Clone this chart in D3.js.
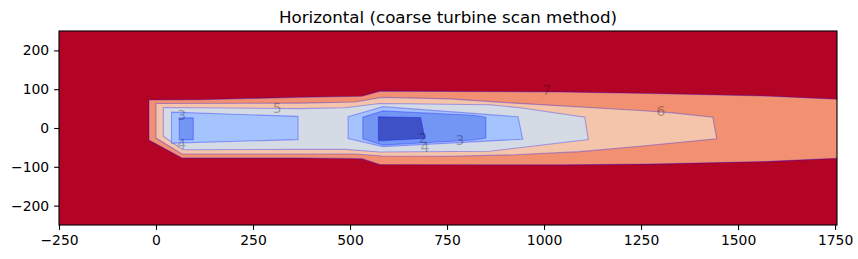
<!DOCTYPE html>
<html>
<head>
<meta charset="utf-8">
<script src="https://cdn.jsdelivr.net/npm/d3@7"></script>
<style>
  body { margin: 0; background: #fff; }
  svg text { font-family: "DejaVu Sans", sans-serif; }
</style>
</head>
<body>
<div id="chart"></div>
<script>
//Axis ticks

const xTicks = [-250, 0, 250, 500, 750, 1000, 1250, 1500, 1750];
const yTicks = [-200, -100, 0, 100, 200];

//Contour outlines (x, y in metres), one per level: region where speed < level

const below7 = [[-18, 72], [113, 73], [371, 79], [531, 82], [577, 95], [1041, 93], [1273, 89], [1582, 82], [1775, 73],
  [1775, -77], [1582, -86], [1273, -93], [1041, -95], [577, -94], [531, -79], [371, -77], [67, -77], [-18, -31]];
const below6 = [[0, 63], [371, 64], [513, 67], [582, 79], [757, 75], [925, 64], [1247, 45], [1332, 39], [1435, 28],
  [1445, -28], [1247, -47], [1092, -61], [925, -69], [757, -73], [582, -72], [513, -67], [371, -67], [67, -67], [0, -26]];
const below5 = [[19, 53], [371, 50], [487, 52], [577, 63], [860, 60], [938, 52], [1105, 28],
  [1114, -30], [925, -52], [860, -60], [577, -62], [487, -55], [371, -55], [69, -56], [19, -21]];
const below4a = [[40, 41], [366, 30], [366, -30], [40, -39]];
const below4b = [[495, 29], [585, 55], [933, 29], [945, -29], [585, -48], [495, -27]];
const below3a = [[60, 26], [96, 26], [96, -30], [60, -30]];
const below3b = [[533, 28], [585, 44], [817, 33], [850, 28], [850, -26], [817, -31], [585, -44], [533, -28]];
const below2 = [[573, 29], [682, 27], [693, -27], [573, -33]];

//Band colours, from the coolwarm map

const colorAbove7 = "#b40426";
const bandColors = ["#f29072", "#f4c4ab", "#d5dbe5", "#a5c3fe", "#7396f5", "#3e51c5"];

//Inline contour labels

const labelText = [7, 6, 5, 3, 4, 2, 4, 3];
const labelX = [1007, 1301, 312, 66, 66, 688, 693, 783];
const labelY = [98, 43, 51, 33, -41, -26, -50, -31];

//Set Dimensions

const width = 858, height = 259;
const margin = {left: 59, top: 31};
const plotW = 778, plotH = 194;

const svg = d3.select("#chart")
  .append("svg")
  .attr("width", width)
  .attr("height", height);

const x = d3.scaleLinear().domain([-250, 1755]).range([0, plotW]);
const y = d3.scaleLinear().domain([-250, 250]).range([plotH, 0]);

const g = svg.append("g")
  .attr("transform", `translate(${margin.left},${margin.top})`);

g.append("clipPath").attr("id", "clip")
  .append("rect").attr("width", plotW).attr("height", plotH);

const plot = g.append("g").attr("clip-path", "url(#clip)");

//Background band (speed above the top level)

plot.append("rect")
  .attr("width", plotW)
  .attr("height", plotH)
  .attr("fill", colorAbove7);

//Filled bands, outermost first

const bands = [
  {pts: below7, color: bandColors[0]},
  {pts: below6, color: bandColors[1]},
  {pts: below5, color: bandColors[2]},
  {pts: below4a, color: bandColors[3]},
  {pts: below4b, color: bandColors[3]},
  {pts: below3a, color: bandColors[4]},
  {pts: below3b, color: bandColors[4]},
  {pts: below2, color: bandColors[5]}
];

const outline = d3.line()
  .x(d => x(d[0]))
  .y(d => y(d[1]))
  .curve(d3.curveLinearClosed);

plot.selectAll("path.band")
  .data(bands)
  .join("path")
  .attr("class", "band")
  .attr("d", d => outline(d.pts))
  .attr("fill", d => d.color)
  .attr("stroke", "blue")
  .attr("stroke-opacity", 0.3)
  .attr("stroke-width", 1.1);

//Contour labels

plot.selectAll("text.clabel")
  .data(labelText)
  .join("text")
  .attr("class", "clabel")
  .attr("x", (d, i) => x(labelX[i]))
  .attr("y", (d, i) => y(labelY[i]))
  .attr("dy", "0.36em")
  .attr("text-anchor", "middle")
  .attr("font-size", 13.9)
  .attr("fill", "black")
  .attr("fill-opacity", 0.3)
  .text(d => d);

//Axes

const xAxis = g.append("g")
  .attr("transform", `translate(0,${plotH})`)
  .call(d3.axisBottom(x).tickValues(xTicks).tickFormat(d3.format("d"))
    .tickSize(4.9).tickPadding(4.9).tickSizeOuter(0));

const yAxis = g.append("g")
  .call(d3.axisLeft(y).tickValues(yTicks).tickFormat(d3.format("d"))
    .tickSize(4.9).tickPadding(4.9).tickSizeOuter(0));

[xAxis, yAxis].forEach(a => {
  a.select(".domain").remove();
  a.attr("font-family", null).attr("font-size", null);
  a.selectAll("line").attr("stroke", "black").attr("stroke-width", 1.1);
  a.selectAll("text").attr("font-size", 13.9).attr("fill", "black");
});

//Frame

g.append("rect")
  .attr("width", plotW)
  .attr("height", plotH)
  .attr("fill", "none")
  .attr("stroke", "black")
  .attr("stroke-width", 1.1);

//Title

svg.append("text")
  .attr("x", margin.left + plotW / 2)
  .attr("y", margin.top - 8.3)
  .attr("text-anchor", "middle")
  .attr("font-size", 16.7)
  .attr("fill", "black")
  .text("Horizontal (coarse turbine scan method)");
</script>
</body>
</html>
